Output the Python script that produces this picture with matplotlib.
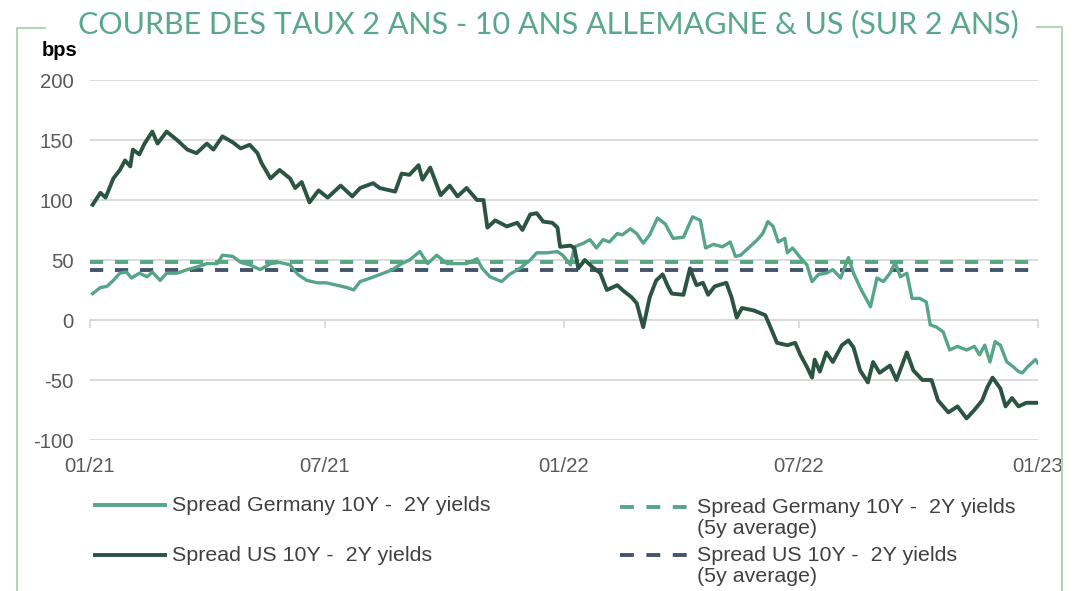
import numpy as np
import pandas as pd
import matplotlib
matplotlib.use("Agg")
import matplotlib.pyplot as plt
from matplotlib.lines import Line2D

# Data (day offsets from 2021-01-01, spread in bps)
us_days = [2, 8, 12, 18, 23, 27, 31, 33, 38, 42, 48, 52, 59, 67, 75, 82, 90, 95, 102, 110,
           116, 123, 129, 132, 139, 146, 154, 158, 163, 169, 176, 183, 193, 202, 208, 218, 223,
           235, 240, 246, 253, 256, 262, 270, 277, 283, 290, 298, 303, 306, 312, 321, 329, 333,
           339, 344, 349, 356, 360, 362, 370, 373, 376, 381, 387, 393, 398, 406, 410, 417, 421,
           426, 431, 436, 441, 445, 448, 457, 462, 467, 472, 476, 481, 490, 494, 498, 502, 511,
           520, 524, 529, 537, 543, 547, 552, 556, 558, 562, 567, 572, 579, 584, 588, 593, 599,
           603, 608, 616, 621, 629, 634, 641, 648, 653, 661, 668, 675, 681, 687, 691, 695, 701,
           705, 710, 715, 721, 730]
us_vals = [96, 106, 102, 118, 125, 133, 128, 142, 138, 147, 157, 147, 157, 150, 142, 139, 147,
           142, 153, 148, 143, 146, 139, 131, 118, 125, 118, 110, 115, 98, 108, 102, 112, 103, 110,
           114, 110, 107, 122, 121, 129, 117, 127, 104, 112, 103, 110, 100, 100, 77, 83, 78, 81,
           75, 88, 89, 82, 81, 77, 61, 62, 60, 43, 50, 44, 39, 25, 29, 25, 19, 14, -6, 19, 33, 38,
           28, 22, 21, 43, 29, 31, 21, 28, 31, 19, 2, 10, 8, 4, -6, -19, -21, -19, -29, -39, -48,
           -33, -43, -27, -35, -21, -17, -23, -42, -52, -35, -44, -38, -50, -27, -42, -50, -50,
           -67, -77, -72, -82, -75, -67, -56, -48, -57, -72, -65, -72, -69, -69]

de_days = [2, 8, 13, 18, 23, 28, 32, 38, 44, 48, 54, 59, 67, 75, 82, 90, 98, 102, 110, 116,
           123, 131, 139, 146, 154, 160, 167, 175, 182, 190, 198, 203, 208, 216, 226, 233, 240,
           246, 254, 260, 267, 275, 283, 290, 298, 302, 308, 317, 323, 331, 339, 344, 352, 360,
           364, 370, 373, 380, 385, 390, 395, 400, 406, 410, 416, 421, 426, 431, 437, 443, 449,
           457, 464, 470, 474, 480, 487, 493, 497, 501, 507, 514, 518, 522, 526, 530, 535, 537,
           541, 547, 552, 556, 561, 567, 572, 578, 584, 588, 593, 601, 606, 611, 616, 620, 624,
           629, 633, 639, 644, 647, 652, 657, 662, 668, 675, 681, 685, 689, 693, 697, 701, 706,
           711, 715, 718, 722, 728, 730]
de_vals = [22, 27, 28, 33, 39, 40, 35, 39, 36, 40, 33, 39, 39, 42, 44, 47, 47, 54, 53, 48, 46,
           42, 47, 48, 46, 38, 33, 31, 31, 29, 27, 25, 32, 35, 39, 42, 47, 50, 57, 47, 54, 47, 47,
           47, 51, 43, 36, 32, 38, 43, 50, 56, 56, 57, 54, 46, 61, 64, 67, 60, 67, 65, 72, 71, 76,
           72, 64, 71, 85, 80, 68, 69, 86, 83, 60, 63, 61, 65, 53, 54, 60, 67, 72, 82, 78, 65, 68,
           56, 60, 52, 46, 32, 38, 39, 42, 35, 52, 39, 27, 11, 35, 32, 39, 48, 36, 39, 18, 18, 15,
           -4, -6, -10, -25, -22, -25, -22, -29, -21, -35, -18, -21, -35, -39, -43, -44, -39, -33,
           -36]

de_avg = 48
us_avg = 42

start = pd.Timestamp("2021-01-01")
us_dates = start + pd.to_timedelta(us_days, unit="D")
de_dates = start + pd.to_timedelta(de_days, unit="D")

tick_dates = pd.to_datetime(["2021-01-01", "2021-07-01", "2022-01-01", "2022-07-01", "2023-01-01"])
tick_labels = ["01/21", "07/21", "01/22", "07/22", "01/23"]

light_green = "#56a586"
dark_green = "#2b5442"
slate = "#44546a"
grid_col = "#d9d9d9"
text_col = "#595959"

plt.rcParams["font.family"] = ["Liberation Sans", "DejaVu Sans"]
plt.rcParams["lines.scale_dashes"] = False
plt.rcParams["axes.unicode_minus"] = False

W, H = 1077, 591
fig = plt.figure(figsize=(W / 100, H / 100), dpi=100)

def fx(px):
    return px / W

def fy(py):
    return 1 - py / H

ax = fig.add_axes([fx(90), fy(440), fx(1038) - fx(90), fy(80) - fy(440)])

ax.plot(de_dates, de_vals, color=light_green, lw=2.4, solid_joinstyle="round", zorder=3)
ax.plot(us_dates, us_vals, color=dark_green, lw=2.8, solid_joinstyle="round", zorder=4)
ax.axhline(de_avg, xmin=0, xmax=0.99, color=light_green, lw=2.8, dashes=(9.5, 8.5), zorder=2)
ax.axhline(us_avg, xmin=0, xmax=0.99, color=slate, lw=2.8, dashes=(9.5, 8.5), zorder=2)

ax.set_xlim(tick_dates[0], tick_dates[-1])
ax.set_ylim(-100, 200)
ax.set_yticks(np.arange(-100, 201, 50))
ax.yaxis.grid(True, color=grid_col, lw=1.3)
ax.set_axisbelow(True)
for s in ["top", "right", "left"]:
    ax.spines[s].set_visible(False)
ax.spines["bottom"].set_position(("data", 0))
ax.spines["bottom"].set_color(grid_col)
ax.spines["bottom"].set_linewidth(1.3)

ax.set_xticks(tick_dates)
ax.set_xticklabels(tick_labels)
ax.tick_params(axis="x", length=6, color=grid_col, width=1.3, pad=93,
               labelsize=14.7, labelcolor=text_col)
ax.tick_params(axis="y", length=0, pad=12, labelsize=14.7, labelcolor=text_col)

# y unit
fig.text(fx(60), fy(51), "bps", ha="center", va="center", fontsize=14.5,
         fontweight="bold", color="black")

# title and frame
fig.text(fx(548), fy(24), "COURBE DES TAUX 2 ANS - 10 ANS ALLEMAGNE & US (SUR 2 ANS)",
         ha="center", va="center", fontsize=22.0, color="#5aa88a", family="Lato")
frame_col = "#b5d3b5"
fig.add_artist(Line2D([fx(17), fx(17), fx(45)], [fy(591), fy(28), fy(28)],
                      color=frame_col, lw=1.5))
fig.add_artist(Line2D([fx(1037), fx(1062), fx(1062)], [fy(27), fy(27), fy(591)],
                      color=frame_col, lw=1.5))

# legend
leg_items = [
    (95, 165, 505, light_green, None, "Spread Germany 10Y -  2Y yields"),
    (95, 165, 555, dark_green, None, "Spread US 10Y -  2Y yields"),
    (620, 690, 507, light_green, (10, 9), "Spread Germany 10Y -  2Y yields\n(5y average)"),
    (620, 690, 555, slate, (10, 9), "Spread US 10Y -  2Y yields\n(5y average)"),
]
for x0, x1, y, col, dash, label in leg_items:
    ln = Line2D([fx(x0), fx(x1)], [fy(y), fy(y)], color=col, lw=2.8)
    if dash:
        ln.set_dashes(dash)
    fig.add_artist(ln)
    fig.text(fx(x1 + 7), fy(y - 9), label, ha="left", va="top", fontsize=15.4,
             color="#404040", linespacing=1.1)

fig.savefig("out.png", dpi=100)
